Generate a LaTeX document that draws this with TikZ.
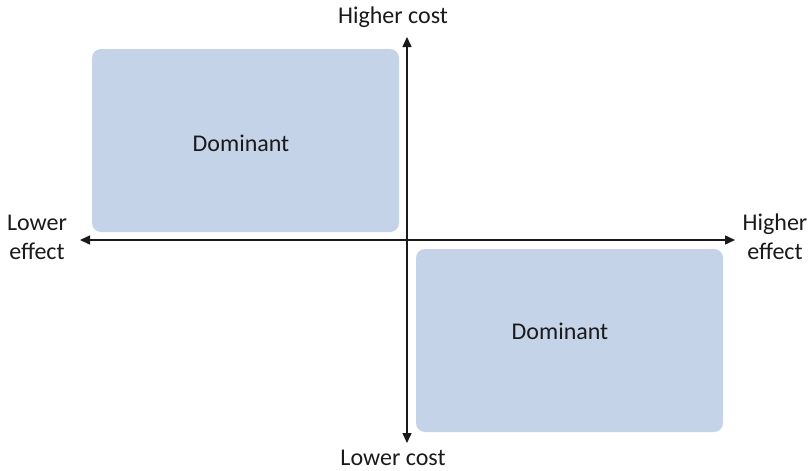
\documentclass[tikz,border=0pt]{standalone}
\usepackage{fontspec}
\setmainfont{Carlito}
\usetikzlibrary{arrows.meta}
\begin{document}
\begin{tikzpicture}[x=1pt,y=-1pt,
  region/.style={fill=boxfill,draw=none,rounded corners=9pt},
  axis/.style={line width=1.4pt,draw=axiscol,-{Triangle[length=10pt,width=9pt]}},
  lbl/.style={font=\fontsize{24}{29}\selectfont,text=txtcol,inner sep=0pt,align=center}]
\definecolor{boxfill}{HTML}{C5D3E9}
\definecolor{axiscol}{HTML}{1A1A1A}
\definecolor{txtcol}{HTML}{1A1A1A}
\useasboundingbox (0,0) rectangle (812,471);
\fill[region] (92,49) rectangle (399,232);
\fill[region] (416,249) rectangle (723,432);
\node[lbl] (dom1) at (241,143) {Dominant};
\node[lbl] (dom2) at (560,331) {Dominant};
\coordinate (top) at (407,37);
\coordinate (bot) at (407,443);
\coordinate (left) at (80,240);
\coordinate (right) at (735,240);
\coordinate (center) at (407,240);
\draw[axis] (center) -- (top);
\draw[axis] (center) -- (bot);
\draw[axis] (center) -- (left);
\draw[axis] (center) -- (right);
\node[lbl] (hc) at (393,17) {Higher cost};
\node[lbl] (lc) at (393,458) {Lower cost};
\node[lbl] (le) at (37,237) {Lower\\effect};
\node[lbl] (he) at (775,237) {Higher\\effect};
\end{tikzpicture}
\end{document}
